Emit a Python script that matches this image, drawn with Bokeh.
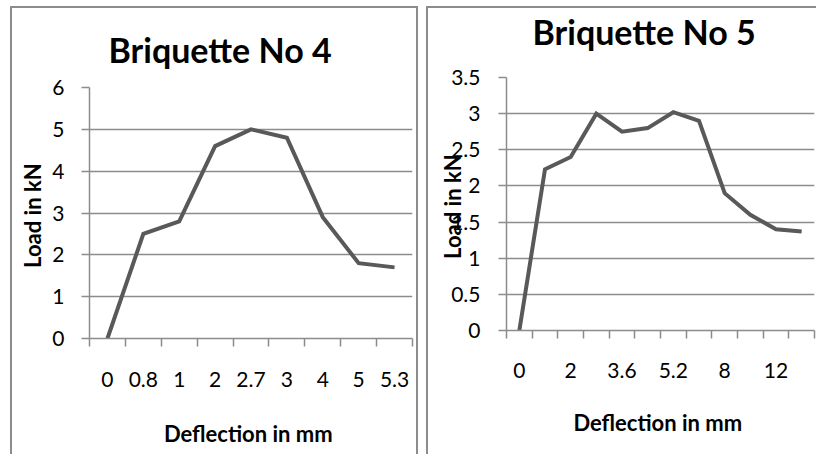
from bokeh.plotting import figure
from bokeh.layouts import row
from bokeh.models import Range1d, FixedTicker, NumeralTickFormatter, LinearAxis
from bokeh.embed import file_html
from bokeh.resources import INLINE

# ---- data ----
title4 = "Briquette No 4"
defl4 = ["0", "0.8", "1", "2", "2.7", "3", "4", "5", "5.3"]
load4 = [0, 2.5, 2.8, 4.6, 5.0, 4.8, 2.9, 1.8, 1.7]
ymax4 = 6
ystep4 = 1

title5 = "Briquette No 5"
defl5 = ["0", "", "2", "", "3.6", "", "5.2", "", "8", "", "12", ""]
load5 = [0, 2.23, 2.4, 3.0, 2.75, 2.8, 3.02, 2.9, 1.9, 1.6, 1.4, 1.37]
ymax5 = 3.5
ystep5 = 0.5

xlabel4 = "Deflection  in mm"
xlabel5 = "Deflection in  mm"
ylabel = "Load in  kN"

FONT = "Lato"
GRID = "#8c8c8c"
LINE = "#595959"


def make_chart(title, labels, loads, ymax, ystep, xlabel, width, height, mb,
               title_offset, title_standoff, title_gap, xtick_standoff,
               xlabel_standoff, ytick_standoff, ylabel_standoff, border_css):
    n = len(loads)
    xs = list(range(n))
    p = figure(width=width, height=height, output_backend="svg",
               toolbar_location=None, frame_align=False,
               x_range=Range1d(-0.5, n - 0.5), y_range=Range1d(0, ymax),
               min_border_left=mb[0], min_border_right=mb[1],
               min_border_top=mb[2], min_border_bottom=mb[3])
    p.styles = border_css
    p.outline_line_color = None
    p.background_fill_color = "white"
    p.border_fill_color = "white"

    p.title.text = title
    p.title.align = "left"
    p.title.vertical_align = "bottom"
    p.title.offset = title_offset
    p.title.standoff = title_standoff
    p.title.text_font = FONT
    p.title.text_font_size = "34px"
    p.title.text_font_style = "bold"
    p.title.text_color = "black"

    # x axis (the one below the frame)
    xa = p.below[0]
    xa.ticker = FixedTicker(ticks=xs, minor_ticks=[i - 0.5 for i in range(n + 1)])
    xa.major_label_overrides = {i: lab for i, lab in enumerate(labels)}
    xa.major_tick_line_color = None
    xa.major_tick_out = 8
    xa.major_tick_in = 0
    xa.minor_tick_line_color = GRID
    xa.minor_tick_line_width = 1.5
    xa.minor_tick_out = 8
    xa.minor_tick_in = 0
    xa.axis_line_color = GRID
    xa.axis_line_width = 1.5
    xa.major_label_standoff = xtick_standoff
    xa.major_label_text_font = FONT
    xa.major_label_text_font_size = "21px"
    xa.major_label_text_color = "black"
    xa.axis_label = xlabel
    xa.axis_label_text_font = FONT
    xa.axis_label_text_font_size = "22px"
    xa.axis_label_text_font_style = "bold"
    xa.axis_label_text_color = "black"
    xa.axis_label_standoff = xlabel_standoff

    # y axis
    ya = p.left[0]
    nt = int(round(ymax / ystep))
    ya.ticker = FixedTicker(ticks=[i * ystep for i in range(nt + 1)])
    ya.formatter = NumeralTickFormatter(format="0.[0]")
    ya.major_tick_line_color = GRID
    ya.major_tick_line_width = 1.5
    ya.major_tick_out = 8
    ya.major_tick_in = 0
    ya.minor_tick_line_color = None
    ya.axis_line_color = GRID
    ya.axis_line_width = 1.5
    ya.major_label_standoff = ytick_standoff
    ya.major_label_text_font = FONT
    ya.major_label_text_font_size = "21px"
    ya.major_label_text_color = "black"
    ya.axis_label = ylabel
    ya.axis_label_text_font = FONT
    ya.axis_label_text_font_size = "22px"
    ya.axis_label_text_font_style = "bold"
    ya.axis_label_text_color = "black"
    ya.axis_label_standoff = ylabel_standoff

    p.xgrid.grid_line_color = None
    p.ygrid.ticker = ya.ticker
    p.ygrid.grid_line_color = GRID
    p.ygrid.grid_line_width = 1.5

    if title_gap > 0:
        # blank spacer axis between the frame and the title (its height is
        # the standoff plus the height of a 10px blank label)
        spacer = LinearAxis(ticker=FixedTicker(ticks=[]), major_tick_out=0,
                            major_tick_in=0, minor_tick_out=0, minor_tick_in=0,
                            major_label_standoff=0, axis_line_color=None,
                            major_tick_line_color=None, minor_tick_line_color=None,
                            axis_label=" ", axis_label_text_font=FONT,
                            axis_label_text_font_size="10px",
                            axis_label_text_color="white",
                            axis_label_standoff=title_gap - 12)
        p.add_layout(spacer, "above")

    p.line(xs, loads, line_color=LINE, line_width=4, line_join="miter")
    return p


B = "2px solid #8c8c8c"
border_l = {"border-left": B, "border-top": B, "border-right": B}
border_r = {"border-left": B, "border-top": B}

p4 = make_chart(title4, defl4, load4, ymax4, ystep4, xlabel4, 408, 448,
                (77, 8, 77, 118), 19, 36, 0, 25, 30, 17, 3, border_l)
p4.margin = (6, 0, 0, 10)
p5 = make_chart(title5, defl5, load5, ymax5, ystep5, xlabel5, 390, 448,
                (78, 4, 65, 126), 26, 0, 23, 24, 28, 18, -18, border_r)
p5.margin = (6, 0, 0, 8)

layout = row(p4, p5)
open("out.html", "w").write(file_html(layout, INLINE))
